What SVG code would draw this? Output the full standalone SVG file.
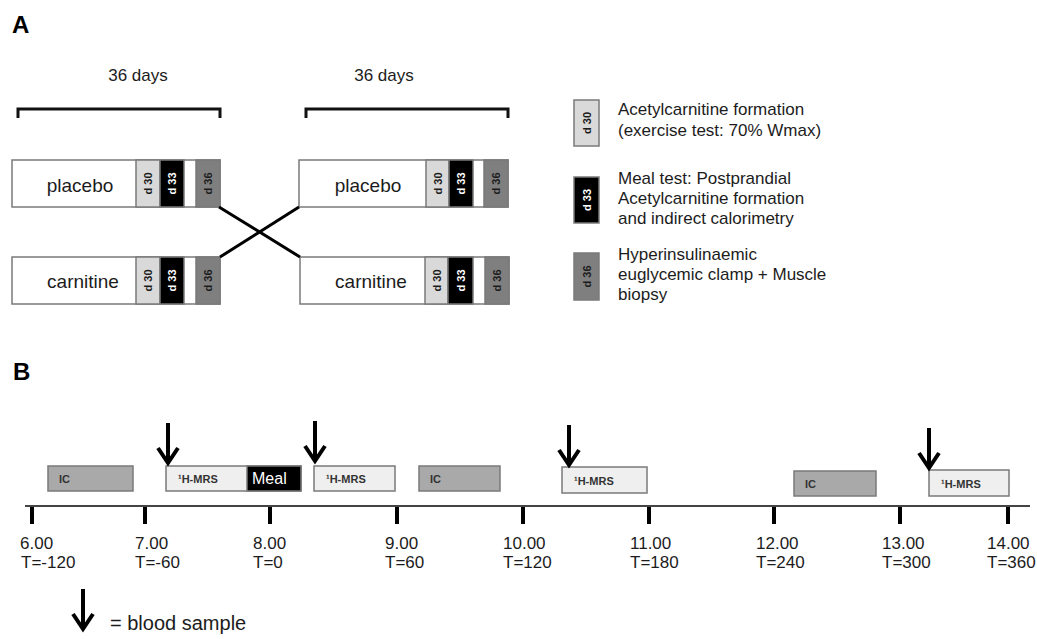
<svg xmlns="http://www.w3.org/2000/svg" width="1037" height="639" viewBox="0 0 1037 639">
<style>
text{font-family:"Liberation Sans",Arial,sans-serif;fill:#1c1c1c}
.panel{font-size:24px;font-weight:bold;fill:#000}
.t17{font-size:17px}
.t19{font-size:19px}
.box{stroke:#7a7a7a;stroke-width:1.5}
.white{fill:#fff}
.lg{fill:#d9d9d9}
.blk{fill:#000}
.dg{fill:#7f7f7f}
.ic{fill:#a9a9a9}
.mrs{fill:#efefef}
.vd{font-size:11px;font-weight:bold;text-anchor:middle;dominant-baseline:central}
.sm{font-size:11px;font-weight:bold;fill:#333}
.bracket{fill:none;stroke:#111;stroke-width:3}
.conn{stroke:#000;stroke-width:3;fill:none}
.axis{stroke:#444;stroke-width:2}
.tick{stroke:#000;stroke-width:4}
</style>
<defs>
<path id="arrow" d="M0,-42 V-3 M-10,-17 L0,-2 L10,-17" fill="none" stroke="#000" stroke-width="4"/>
</defs>

<text class="panel" x="12" y="33">A</text>

<g id="bracket-left">
<path class="bracket" d="M18,118 V109 H220 V118"/>
<text class="t17" x="138" y="81" text-anchor="middle">36 days</text>
</g>
<g id="bracket-right">
<path class="bracket" d="M306,118 V109 H508 V118"/>
<text class="t17" x="384" y="81" text-anchor="middle">36 days</text>
</g>

<g id="placebo-left">
<rect class="box white" x="12" y="160" width="208" height="47"/>
<rect class="box lg" x="136" y="160" width="24" height="47"/>
<rect class="box blk" x="160" y="160" width="24" height="47"/>
<rect class="box dg" x="196" y="160" width="24" height="47"/>
<text class="t19" x="80" y="192" text-anchor="middle">placebo</text>
<text class="vd" x="148" y="183.5" transform="rotate(-90 148 183.5)">d 30</text>
<text class="vd" x="172" y="183.5" transform="rotate(-90 172 183.5)" style="fill:#fff">d 33</text>
<text class="vd" x="208" y="183.5" transform="rotate(-90 208 183.5)">d 36</text>
</g>

<g id="carnitine-left">
<rect class="box white" x="12" y="257" width="208" height="47"/>
<rect class="box lg" x="136" y="257" width="24" height="47"/>
<rect class="box blk" x="160" y="257" width="24" height="47"/>
<rect class="box dg" x="196" y="257" width="24" height="47"/>
<text class="t19" x="83" y="288" text-anchor="middle">carnitine</text>
<text class="vd" x="148" y="280.5" transform="rotate(-90 148 280.5)">d 30</text>
<text class="vd" x="172" y="280.5" transform="rotate(-90 172 280.5)" style="fill:#fff">d 33</text>
<text class="vd" x="208" y="280.5" transform="rotate(-90 208 280.5)">d 36</text>
</g>

<g id="placebo-right">
<rect class="box white" x="299" y="160" width="209" height="47"/>
<rect class="box lg" x="426" y="160" width="23" height="47"/>
<rect class="box blk" x="449" y="160" width="24" height="47"/>
<rect class="box dg" x="484" y="160" width="24" height="47"/>
<text class="t19" x="368" y="192" text-anchor="middle">placebo</text>
<text class="vd" x="437.5" y="183.5" transform="rotate(-90 437.5 183.5)">d 30</text>
<text class="vd" x="461" y="183.5" transform="rotate(-90 461 183.5)" style="fill:#fff">d 33</text>
<text class="vd" x="496" y="183.5" transform="rotate(-90 496 183.5)">d 36</text>
</g>

<g id="carnitine-right">
<rect class="box white" x="300" y="257" width="209" height="47"/>
<rect class="box lg" x="425" y="257" width="23" height="47"/>
<rect class="box blk" x="448" y="257" width="25" height="47"/>
<rect class="box dg" x="485" y="257" width="24" height="47"/>
<text class="t19" x="371" y="288" text-anchor="middle">carnitine</text>
<text class="vd" x="436.5" y="280.5" transform="rotate(-90 436.5 280.5)">d 30</text>
<text class="vd" x="460.5" y="280.5" transform="rotate(-90 460.5 280.5)" style="fill:#fff">d 33</text>
<text class="vd" x="497" y="280.5" transform="rotate(-90 497 280.5)">d 36</text>
</g>

<g id="connectors">
<line class="conn" x1="219" y1="207" x2="300" y2="257"/>
<line class="conn" x1="220" y1="257" x2="299" y2="207"/>
</g>

<g id="legend-d30">
<rect class="box lg" x="574" y="100" width="25" height="46"/>
<text class="vd" x="586.5" y="123" transform="rotate(-90 586.5 123)">d 30</text>
<text class="t17" x="618" y="115">Acetylcarnitine formation</text>
<text class="t17" x="618" y="136">(exercise test: 70% Wmax)</text>
</g>
<g id="legend-d33">
<rect class="box blk" x="574" y="177" width="25" height="46"/>
<text class="vd" x="586.5" y="200" transform="rotate(-90 586.5 200)" style="fill:#fff">d 33</text>
<text class="t17" x="618" y="184">Meal test: Postprandial</text>
<text class="t17" x="618" y="204">Acetylcarnitine formation</text>
<text class="t17" x="618" y="224">and indirect calorimetry</text>
</g>
<g id="legend-d36">
<rect class="box dg" x="574" y="253" width="25" height="47"/>
<text class="vd" x="586.5" y="276.5" transform="rotate(-90 586.5 276.5)">d 36</text>
<text class="t17" x="618" y="260">Hyperinsulinaemic</text>
<text class="t17" x="618" y="280">euglycemic clamp + Muscle</text>
<text class="t17" x="618" y="300">biopsy</text>
</g>

<text class="panel" x="13" y="380">B</text>

<g id="timeline">
<line class="axis" x1="25" y1="506" x2="1030" y2="506"/>
<g class="ticks">
<line class="tick" x1="32" y1="507" x2="32" y2="524"/>
<line class="tick" x1="145" y1="507" x2="145" y2="524"/>
<line class="tick" x1="270" y1="507" x2="270" y2="524"/>
<line class="tick" x1="397" y1="507" x2="397" y2="524"/>
<line class="tick" x1="523" y1="507" x2="523" y2="524"/>
<line class="tick" x1="649" y1="507" x2="649" y2="524"/>
<line class="tick" x1="774" y1="507" x2="774" y2="524"/>
<line class="tick" x1="900" y1="507" x2="900" y2="524"/>
<line class="tick" x1="1008" y1="507" x2="1008" y2="524"/>
</g>
<g class="t17">
<text x="20" y="549">6.00</text><text x="21" y="568">T=-120</text>
<text x="135" y="549">7.00</text><text x="135" y="568">T=-60</text>
<text x="253" y="549">8.00</text><text x="253" y="568">T=0</text>
<text x="385" y="549">9.00</text><text x="385" y="568">T=60</text>
<text x="503" y="549">10.00</text><text x="503" y="568">T=120</text>
<text x="630" y="549">11.00</text><text x="630" y="568">T=180</text>
<text x="756" y="549">12.00</text><text x="756" y="568">T=240</text>
<text x="882" y="549">13.00</text><text x="882" y="568">T=300</text>
<text x="987" y="549">14.00</text><text x="987" y="568">T=360</text>
</g>
</g>

<g id="ic-1">
<rect class="box ic" x="48" y="466" width="85" height="25"/>
<text class="sm" x="59" y="483">IC</text>
</g>
<g id="mrs-meal">
<rect class="box mrs" x="166" y="466" width="135" height="25"/>
<rect class="box blk" x="247" y="466" width="54" height="25"/>
<text class="sm" x="178" y="483">¹H-MRS</text>
<text x="252" y="484" style="font-size:16px;fill:#fff">Meal</text>
</g>
<g id="mrs-2">
<rect class="box mrs" x="314" y="466" width="81" height="25"/>
<text class="sm" x="326" y="483">¹H-MRS</text>
</g>
<g id="ic-2">
<rect class="box ic" x="419" y="466" width="81" height="25"/>
<text class="sm" x="430" y="483">IC</text>
</g>
<g id="mrs-3">
<rect class="box mrs" x="562" y="467" width="85" height="26"/>
<text class="sm" x="574" y="485">¹H-MRS</text>
</g>
<g id="ic-3">
<rect class="box ic" x="794" y="471" width="82" height="25"/>
<text class="sm" x="805" y="488">IC</text>
</g>
<g id="mrs-4">
<rect class="box mrs" x="929" y="470" width="80" height="26"/>
<text class="sm" x="941" y="488">¹H-MRS</text>
</g>

<g id="blood-arrows">
<use href="#arrow" x="168" y="465"/>
<use href="#arrow" x="315" y="463"/>
<use href="#arrow" x="569" y="467"/>
<use href="#arrow" x="929" y="470"/>
</g>

<g id="legend-blood">
<use href="#arrow" x="83" y="631"/>
<text x="110" y="630" style="font-size:20px">= blood sample</text>
</g>
</svg>
